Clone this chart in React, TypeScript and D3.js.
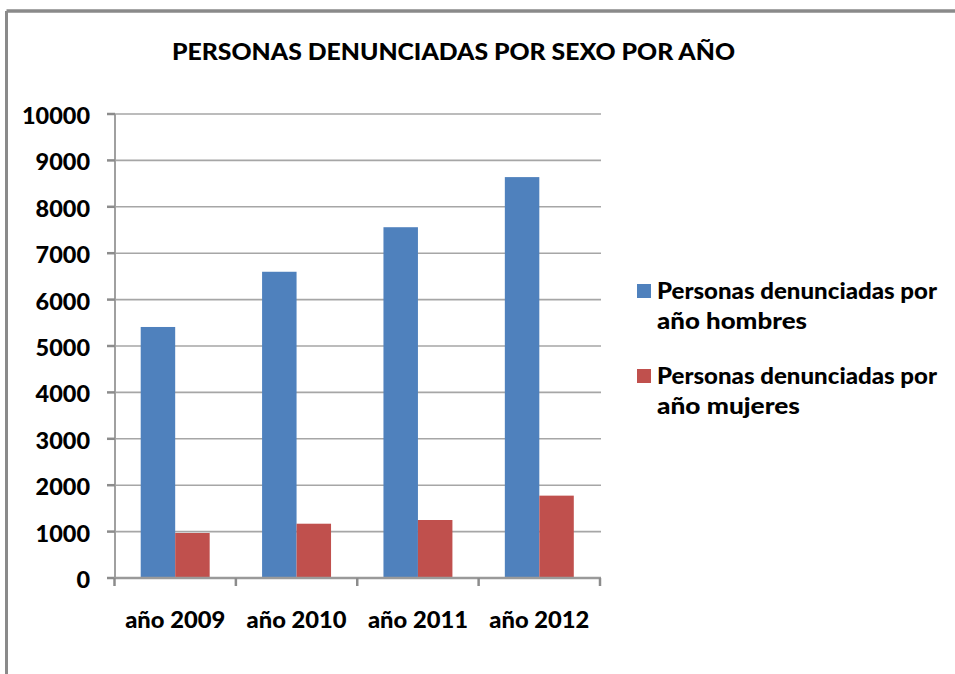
import React from "react";
import * as d3 from "d3";

const categories = ["año 2009", "año 2010", "año 2011", "año 2012"];
const seriesNames = [
  ["Personas denunciadas por", "año hombres"],
  ["Personas denunciadas por", "año mujeres"],
];
const hombres = [5410, 6600, 7560, 8640];
const mujeres = [970, 1170, 1250, 1775];
const yTicks = [0, 1000, 2000, 3000, 4000, 5000, 6000, 7000, 8000, 9000, 10000];
const title = "PERSONAS DENUNCIADAS POR SEXO POR AÑO";
const colors = ["#4F81BD", "#C0504D"];

const W = 955;
const H = 674;
const FONT = "Lato, 'Open Sans', 'DejaVu Sans', sans-serif";

export default function App() {
  const x0 = d3.scaleBand<string>().domain(categories).range([114.5, 600]).padding(0);
  const x1 = d3
    .scaleBand<number>()
    .domain([0, 1])
    .range([0, x0.bandwidth()])
    .paddingInner(0)
    .paddingOuter(0.76);
  const y = d3.scaleLinear().domain([0, 10000]).range([578, 114]);
  const series = [hombres, mujeres];
  const boundaries = [...categories.map((c) => x0(c) as number), 600];

  return (
    <svg
      width={W}
      height={H}
      style={{ position: "absolute", left: 0, top: 0, display: "block", background: "#fff" }}
    >
      {/* frame */}
      <line x1={6.5} y1={11} x2={W} y2={11} stroke="#8a8a8a" strokeWidth={3.5} />
      <line x1={6.5} y1={11} x2={6.5} y2={H} stroke="#8a8a8a" strokeWidth={3} />

      {/* title */}
      <text
        x={172}
        y={60}
        fontFamily={FONT}
        fontWeight={900}
        fontSize={23}
        textLength={563}
        lengthAdjust="spacingAndGlyphs"
        fill="#000"
      >
        {title}
      </text>

      {/* gridlines */}
      {yTicks.map((t) => (
        <line key={"g" + t} x1={115} x2={601} y1={y(t)} y2={y(t)} stroke="#a6a6a6" strokeWidth={1.6} />
      ))}

      {/* bars */}
      {categories.map((c, i) =>
        series.map((s, k) => (
          <rect
            key={c + k}
            x={(x0(c) as number) + (x1(k) as number)}
            y={y(s[i])}
            width={x1.bandwidth()}
            height={y(0) - y(s[i])}
            fill={colors[k]}
          />
        ))
      )}

      {/* y axis */}
      <line x1={115} x2={115} y1={y(10000)} y2={y(0)} stroke="#a0a0a0" strokeWidth={2} />
      {yTicks.map((t) => (
        <g key={"t" + t}>
          <line x1={107} x2={115} y1={y(t)} y2={y(t)} stroke="#8c8c8c" strokeWidth={2.5} />
          <text
            x={90}
            y={y(t) + 10}
            textAnchor="end"
            fontFamily={FONT}
            fontWeight={900}
            fontSize={22}
            textLength={String(t).length * 13.6}
            lengthAdjust="spacingAndGlyphs"
            fill="#000"
          >
            {t}
          </text>
        </g>
      ))}

      {/* x axis */}
      <line x1={114} x2={601} y1={y(0)} y2={y(0)} stroke="#9a9a9a" strokeWidth={2.5} />
      {boundaries.map((b, i) => (
        <line key={"xb" + i} x1={b} x2={b} y1={y(0)} y2={y(0) + 8} stroke="#8c8c8c" strokeWidth={2.5} />
      ))}
      {categories.map((c) => (
        <text
          key={"xl" + c}
          x={(x0(c) as number) + x0.bandwidth() / 2}
          y={628}
          textAnchor="middle"
          fontFamily={FONT}
          fontWeight={900}
          fontSize={23}
          textLength={100}
          lengthAdjust="spacingAndGlyphs"
          fill="#000"
        >
          {c}
        </text>
      ))}

      {/* legend */}
      {seriesNames.map((lines, k) => {
        const top = k === 0 ? 284 : 369;
        return (
          <g key={"lg" + k}>
            <rect x={637} y={top} width={14} height={14} fill={colors[k]} />
            {lines.map((ln, j) => (
              <text
                key={j}
                x={657}
                y={top + 14.5 + j * 30}
                fontFamily={FONT}
                fontWeight={900}
                fontSize={22}
                textLength={j === 0 ? 280 : k === 0 ? 150 : 143}
                lengthAdjust="spacingAndGlyphs"
                fill="#000"
              >
                {ln}
              </text>
            ))}
          </g>
        );
      })}
    </svg>
  );
}
